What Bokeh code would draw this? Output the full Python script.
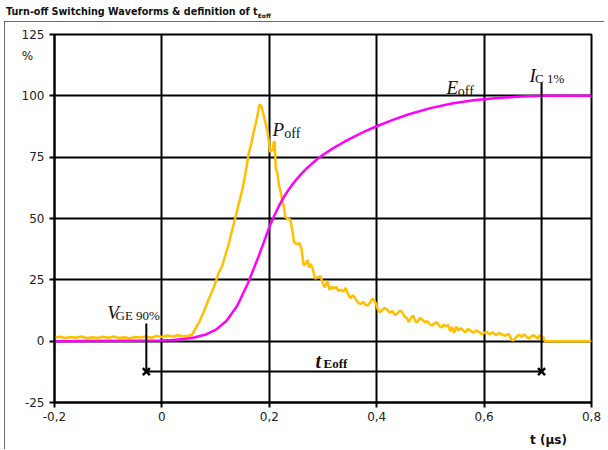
from bokeh.plotting import figure
from bokeh.models import Range1d, FixedTicker, Label, Div, LinearAxis
from bokeh.layouts import column
from bokeh.embed import file_html
from bokeh.resources import INLINE

# ---------------- data ----------------
x_ticks = [-0.2, 0.0, 0.2, 0.4, 0.6, 0.8]
x_tick_labels = ["-0,2", "0", "0,2", "0,4", "0,6", "0,8"]
y_ticks = [-25, 0, 25, 50, 75, 100, 125]
y_tick_labels = ["-25", "0", "25", "50", "75", "100", "125"]
y_unit_pos = 116.4
y_unit_label = "%"
x_title_pos = 0.72
x_axis_title = "t (µs)"

# P_off (%)
t_poff = [-0.200, -0.190, -0.180, -0.170, -0.160, -0.150, -0.140, -0.130, -0.120, -0.110,
          -0.100, -0.090, -0.080, -0.070, -0.060, -0.050, -0.040, -0.030, -0.020, -0.010,
          0.000, 0.010, 0.020, 0.030, 0.040, 0.050, 0.056, 0.062, 0.070, 0.078,
          0.086, 0.094, 0.100, 0.106, 0.112, 0.118, 0.125, 0.131, 0.137, 0.142,
          0.146, 0.150, 0.154, 0.158, 0.162, 0.166, 0.170, 0.174, 0.177, 0.180,
          0.182, 0.185, 0.188, 0.191, 0.194, 0.197, 0.200, 0.202, 0.205, 0.207,
          0.208, 0.210, 0.212, 0.215, 0.218, 0.221, 0.224, 0.227, 0.230, 0.234,
          0.239, 0.243, 0.246, 0.251, 0.256, 0.260, 0.264, 0.268, 0.271, 0.274,
          0.277, 0.281, 0.285, 0.290, 0.295, 0.300, 0.303, 0.308, 0.312, 0.316,
          0.320, 0.324, 0.329, 0.334, 0.338, 0.342, 0.347, 0.351, 0.356, 0.361,
          0.366, 0.370, 0.375, 0.379, 0.383, 0.388, 0.392, 0.396, 0.399, 0.402,
          0.406, 0.411, 0.415, 0.419, 0.424, 0.429, 0.434, 0.439, 0.443, 0.447,
          0.452, 0.456, 0.460, 0.464, 0.468, 0.472, 0.476, 0.480, 0.485, 0.490,
          0.494, 0.499, 0.503, 0.508, 0.512, 0.517, 0.521, 0.525, 0.529, 0.533,
          0.537, 0.540, 0.544, 0.548, 0.552, 0.556, 0.560, 0.565, 0.570, 0.575,
          0.580, 0.585, 0.590, 0.596, 0.600, 0.605, 0.610, 0.616, 0.622, 0.628,
          0.634, 0.640, 0.646, 0.651, 0.655, 0.660, 0.665, 0.670, 0.675, 0.680,
          0.685, 0.690, 0.695, 0.700, 0.704, 0.707, 0.710, 0.713, 0.800]
p_off = [1.5, 1.8, 1.3, 1.7, 1.4, 1.9, 1.2, 1.6, 1.3, 1.8,
         1.4, 1.9, 1.3, 1.6, 1.2, 1.7, 1.5, 1.9, 1.4, 2.1,
         1.7, 2.3, 1.9, 2.4, 2.0, 2.2, 2.6, 5.0, 8.0, 12.0,
         16.5, 20.5, 24.0, 28.0, 30.5, 35.0, 40.0, 45.5, 50.5, 55.0,
         58.5, 62.0, 66.5, 71.5, 77.0, 80.0, 84.5, 88.0, 91.0, 94.5,
         96.5, 96.0, 93.5, 90.5, 88.0, 85.0, 80.0, 77.0, 78.5, 77.5,
         81.0, 81.5, 70.5, 68.5, 63.5, 61.0, 57.3, 55.0, 50.5, 50.0,
         49.5, 45.0, 40.3, 39.5, 40.0, 37.5, 31.0, 31.5, 33.0, 30.0,
         31.5, 29.5, 25.5, 26.0, 26.5, 23.5, 22.0, 24.5, 21.0, 22.0,
         21.5, 22.2, 20.4, 21.0, 20.2, 21.7, 19.0, 17.5, 18.8, 17.0,
         15.6, 15.2, 16.0, 14.8, 14.5, 15.8, 17.3, 16.4, 15.2, 13.0,
         11.8, 12.8, 13.5, 13.0, 11.6, 12.3, 10.6, 11.4, 12.4, 12.0,
         10.0, 9.4, 7.8, 9.6, 10.4, 8.0, 7.8, 9.4, 8.8, 7.6,
         8.2, 6.8, 6.4, 7.4, 7.7, 6.2, 5.6, 6.8, 6.0, 6.6,
         4.0, 5.8, 3.4, 6.0, 4.2, 5.4, 4.6, 3.6, 5.0, 4.2,
         3.4, 4.4, 3.8, 2.8, 3.4, 3.8, 2.8, 3.6, 2.4, 3.4,
         2.6, 2.2, 3.0, 0.6, 0.4, 1.8, 2.6, 1.8, 2.8, 1.6,
         1.2, 2.4, 2.0, 1.0, 2.6, 1.0, 1.8, 0.0, 0.0]

# E_off (%)
t_eoff = [-0.200, 0.000, 0.020, 0.040, 0.060, 0.080, 0.100, 0.120, 0.140, 0.160,
          0.180, 0.190, 0.200, 0.210, 0.220, 0.230, 0.240, 0.250, 0.260, 0.270,
          0.280, 0.290, 0.300, 0.320, 0.340, 0.360, 0.380, 0.400, 0.430, 0.460,
          0.500, 0.540, 0.580, 0.620, 0.660, 0.707, 0.800]
e_off = [0.0, 0.3, 0.5, 0.9, 1.5, 2.6, 4.6, 8.2, 14.3, 23.5,
         34.5, 40.5, 46.5, 51.5, 56.0, 59.8, 63.0, 65.8, 68.3, 70.5,
         72.5, 74.3, 76.0, 78.8, 81.3, 83.6, 85.7, 87.6, 90.2, 92.5,
         95.0, 96.9, 98.2, 99.0, 99.6, 100.0, 100.0]

# t_Eoff definition markers
t_vge90 = -0.029
t_ic1 = 0.707
v_arrow = -12.4
v_vge90_top = 7.2
v_ic1_top = 105.4

NBSP = "\u00a0"

# ---------------- figure ----------------
p = figure(width=600, height=428, x_range=Range1d(-0.2, 0.8), y_range=Range1d(-25, 125),
           output_backend="svg", toolbar_location=None,
           min_border_left=50, min_border_right=13, min_border_top=13, min_border_bottom=47)
p.margin = (0, 0, 0, 4)
p.styles = {"outline": "2px solid #3a3a3a", "outline-offset": "-2px"}
p.background_fill_color = "white"
p.border_fill_color = "white"
p.outline_line_color = "black"
p.outline_line_width = 2

xax = p.below[0]
yax = p.left[0]
xax.ticker = FixedTicker(ticks=x_ticks)
yax.ticker = FixedTicker(ticks=y_ticks + [y_unit_pos], minor_ticks=y_ticks)
xax.major_label_overrides = dict(zip(x_ticks, x_tick_labels))
y_over = dict(zip(y_ticks, y_tick_labels))
y_over[y_unit_pos] = y_unit_label + NBSP * 3
yax.major_label_overrides = y_over
p.xgrid.ticker = FixedTicker(ticks=x_ticks)
p.ygrid.ticker = FixedTicker(ticks=y_ticks)

for ax in (xax, yax):
    ax.axis_line_color = "black"
    ax.axis_line_width = 2
    ax.major_tick_line_color = "black"
    ax.major_tick_line_width = 2
    ax.major_tick_out = 5
    ax.major_tick_in = 0
    ax.minor_tick_line_color = None
    ax.major_label_text_font = "DejaVu Sans"
    ax.major_label_text_font_size = "12px"
    ax.major_label_text_color = "#222222"
    ax.major_label_standoff = 4

# y axis: real tick marks drawn as minor ticks, the major tick at the unit position is hidden
yax.major_tick_line_color = None
yax.minor_tick_line_color = "black"
yax.minor_tick_line_width = 2
yax.minor_tick_out = 5
yax.minor_tick_in = 0
yax.major_label_standoff = 5

# axis title row below the tick labels
title_axis = LinearAxis(ticker=FixedTicker(ticks=[x_title_pos]),
                        major_label_overrides={x_title_pos: x_axis_title},
                        axis_line_color=None, major_tick_line_color=None, minor_tick_line_color=None,
                        major_tick_out=0, major_tick_in=0, major_label_standoff=9,
                        major_label_text_font="DejaVu Sans", major_label_text_font_size="12px",
                        major_label_text_font_style="bold", major_label_text_color="#111111")
p.add_layout(title_axis, "below")

for g in (p.xgrid, p.ygrid):
    g.grid_line_color = "black"
    g.grid_line_width = 2

p.line(t_poff, p_off, color="#FFC000", line_width=2.5)
p.line(t_eoff, e_off, color="#FF00FF", line_width=2.5)

# definition lines
p.line([t_vge90, t_vge90], [v_vge90_top, v_arrow], color="black", line_width=2)
p.line([t_ic1, t_ic1], [v_ic1_top, v_arrow], color="black", line_width=2)
p.line([t_vge90, t_ic1], [v_arrow, v_arrow], color="black", line_width=2)
p.scatter([t_vge90, t_ic1], [v_arrow, v_arrow], marker="x", size=10, line_width=2.5, color="black")

SERIF = "Liberation Serif"


def lab(x, y, text, size, style="normal", font=SERIF, align="left", baseline="alphabetic", color="#111111"):
    p.add_layout(Label(x=x, y=y, text=text, text_font=font, text_font_size=size,
                       text_font_style=style, text_align=align, text_baseline=baseline,
                       text_color=color))


lab(0.206, 86.3, "P", "19px", "italic")
lab(0.228, 84.6, "off", "14px")
lab(0.530, 103.4, "E", "19px", "italic")
lab(0.551, 101.8, "off", "14px")
lab(0.6845, 108.3, "I", "19px", "italic")
lab(0.695, 107.1, "C 1%", "13px")
lab(-0.102, 11.7, "V", "19px", "italic")
lab(-0.0864, 10.5, "GE 90%", "13px")
lab(0.286, -7.9, "t", "20px", "bold italic")
lab(0.301, -9.2, "Eoff", "13px", "bold")

title = Div(text='Turn-off Switching Waveforms &amp; definition of t<sub style="font-size:6px">Eoff</sub>',
            width=598, height=15, margin=(6, 0, 0, 6),
            styles={"font-family": "DejaVu Sans", "font-size": "9.6px", "font-weight": "bold",
                    "line-height": "12px", "color": "#111111"})

layout = column(title, p, spacing=0, width=604)
open("out.html", "w").write(file_html(layout, INLINE))
